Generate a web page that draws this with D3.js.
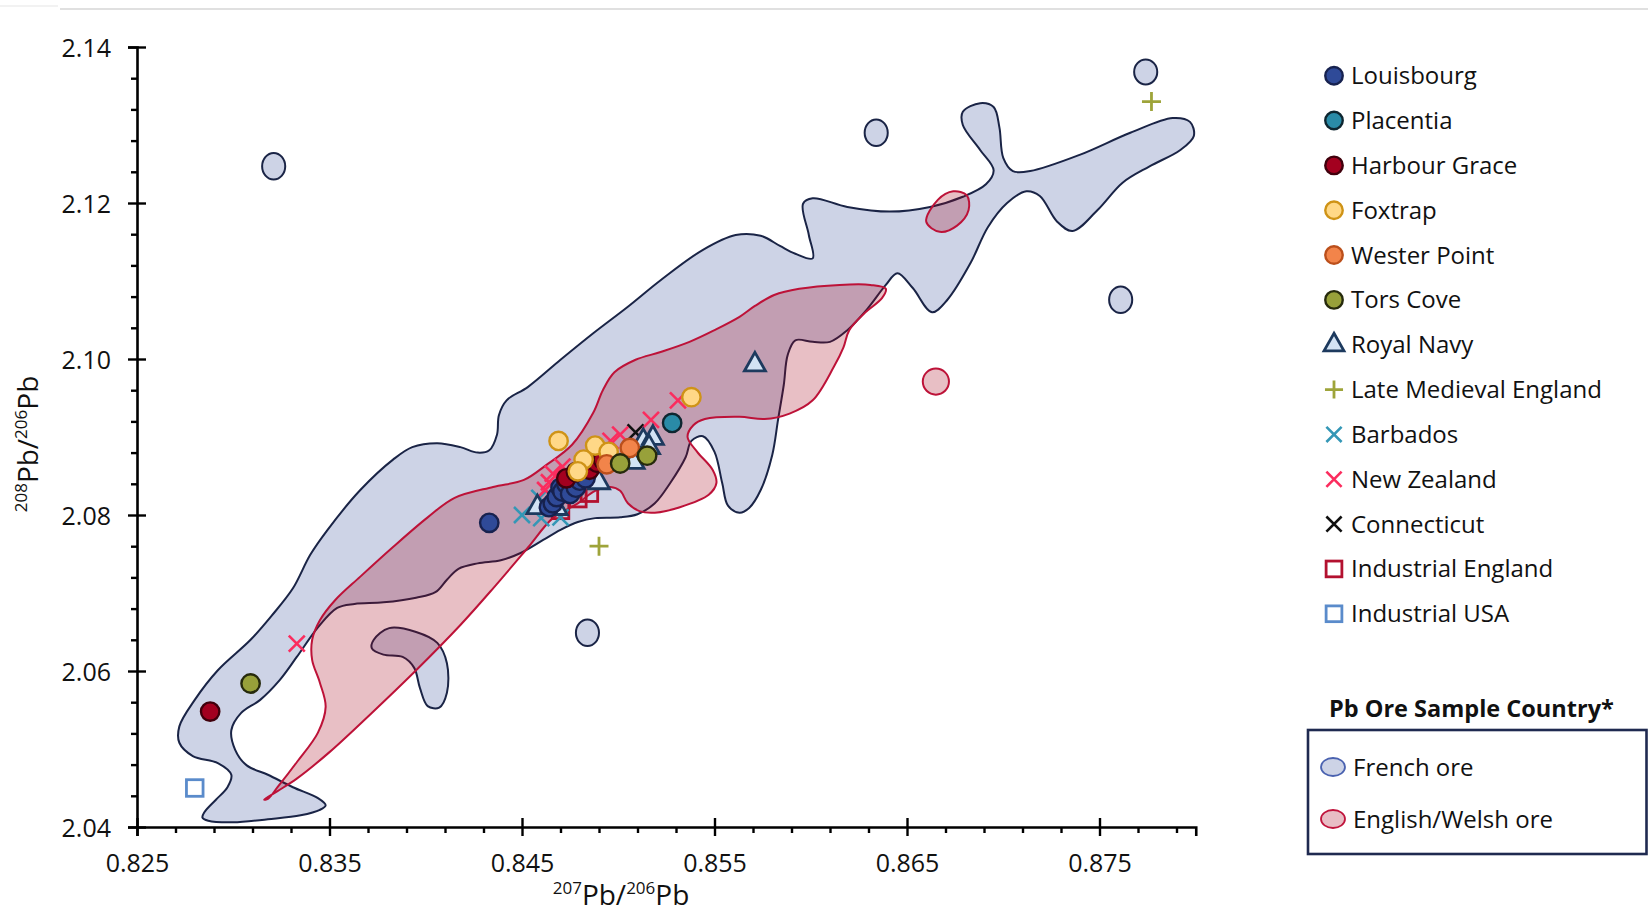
<!DOCTYPE html>
<html>
<head>
<meta charset="utf-8">
<script src="https://cdn.jsdelivr.net/npm/d3@7"></script>
<style>
  body { margin: 0; background: #fff; }
  svg { display: block; }
  text { font-family: 'Open Sans', 'Noto Sans', sans-serif; fill: #111; }
</style>
</head>
<body>
<svg id="chart" width="1648" height="914"></svg>
<script>
// ---- Lead isotope ratios: 207Pb/206Pb (x) vs 208Pb/206Pb (y) ----

const xTickValues = [0.825, 0.835, 0.845, 0.855, 0.865, 0.875];
const yTickValues = [2.04, 2.06, 2.08, 2.10, 2.12, 2.14];

// Archaeological lead samples, [207Pb/206Pb, 208Pb/206Pb]
const louisbourg = [[0.8433,2.0790],[0.8464,2.0810],[0.8466,2.0815],[0.8468,2.0823],[0.8470,2.0835],[0.8471,2.0830],[0.8473,2.0840],[0.8475,2.0827],[0.8478,2.0835],[0.8480,2.0844],[0.8483,2.0847]];
const placentia = [[0.8528,2.0918]];
const harbourGrace = [[0.8288,2.0548],[0.8473,2.0847],[0.8478,2.0855],[0.8485,2.0858],[0.8489,2.0867],[0.8492,2.0871]];
const foxtrap = [[0.8469,2.0895],[0.8488,2.0889],[0.8495,2.0881],[0.8482,2.0871],[0.8479,2.0856],[0.8538,2.0951]];
const westerPoint = [[0.8506,2.0886],[0.8494,2.0865]];
const torsCove = [[0.8309,2.0584],[0.8501,2.0866],[0.8515,2.0876]];
const royalNavy = [[0.8571,2.0993],[0.8458,2.0810],[0.8468,2.0809],[0.8490,2.0842],[0.8508,2.0868],[0.8513,2.0895],[0.8518,2.0899],[0.8516,2.0887]];
const lateMedievalEngland = [[0.8777,2.1330],[0.8490,2.0760]];
const barbados = [[0.8450,2.0800],[0.8459,2.0822],[0.8460,2.0796],[0.8470,2.0797]];
const newZealand = [[0.8333,2.0635],[0.8531,2.0947],[0.8517,2.0922],[0.8501,2.0903],[0.8496,2.0895],[0.8464,2.0842],[0.8466,2.0853],[0.8471,2.0862],[0.8462,2.0832]];
const connecticut = [[0.8509,2.0906]];
const industrialEngland = [[0.8479,2.0821],[0.8485,2.0828],[0.8470,2.0806]];
const industrialUSA = [[0.8280,2.0450]];

// Ore field outlines, [207Pb/206Pb, 208Pb/206Pb]
const frenchOreOutline = [[0.8284,2.0412],[0.8287,2.0408],[0.8300,2.0406],[0.8318,2.0410],[0.8335,2.0415],[0.8345,2.0422],[0.8348,2.0428],[0.8344,2.0437],[0.8331,2.0451],[0.8318,2.0467],[0.8307,2.0479],[0.8301,2.0499],[0.8299,2.0524],[0.8304,2.0546],[0.8314,2.0563],[0.8324,2.0588],[0.8333,2.0618],[0.8344,2.0656],[0.8354,2.0681],[0.8363,2.0686],[0.8378,2.0688],[0.8395,2.0694],[0.8405,2.0701],[0.8411,2.0717],[0.8417,2.0731],[0.8427,2.0738],[0.8439,2.0742],[0.8449,2.0751],[0.8461,2.0768],[0.8470,2.0781],[0.8479,2.0791],[0.8488,2.0796],[0.8501,2.0797],[0.8510,2.0801],[0.8519,2.0815],[0.8527,2.0841],[0.8535,2.0874],[0.8538,2.0895],[0.8544,2.0901],[0.8550,2.0881],[0.8554,2.0841],[0.8557,2.0812],[0.8563,2.0803],[0.8568,2.0809],[0.8574,2.0832],[0.8580,2.0877],[0.8583,2.0922],[0.8586,2.0967],[0.8588,2.1005],[0.8592,2.1024],[0.8601,2.1022],[0.8610,2.1022],[0.8619,2.1037],[0.8629,2.1063],[0.8639,2.1095],[0.8645,2.1110],[0.8653,2.1091],[0.8663,2.1060],[0.8671,2.1076],[0.8683,2.1123],[0.8692,2.1169],[0.8702,2.1200],[0.8712,2.1215],[0.8719,2.1209],[0.8728,2.1176],[0.8736,2.1164],[0.8749,2.1191],[0.8762,2.1226],[0.8776,2.1247],[0.8792,2.1268],[0.8799,2.1286],[0.8797,2.1304],[0.8788,2.1309],[0.8766,2.1290],[0.8740,2.1262],[0.8714,2.1241],[0.8705,2.1241],[0.8700,2.1258],[0.8698,2.1297],[0.8695,2.1323],[0.8688,2.1328],[0.8679,2.1317],[0.8679,2.1300],[0.8688,2.1268],[0.8695,2.1242],[0.8691,2.1224],[0.8679,2.1208],[0.8662,2.1195],[0.8641,2.1189],[0.8619,2.1195],[0.8601,2.1206],[0.8596,2.1199],[0.8599,2.1159],[0.8601,2.1129],[0.8592,2.1135],[0.8584,2.1145],[0.8574,2.1158],[0.8561,2.1159],[0.8544,2.1140],[0.8522,2.1101],[0.8505,2.1067],[0.8487,2.1033],[0.8470,2.0999],[0.8453,2.0964],[0.8442,2.0947],[0.8438,2.0928],[0.8437,2.0903],[0.8433,2.0883],[0.8427,2.0880],[0.8418,2.0887],[0.8406,2.0892],[0.8393,2.0887],[0.8383,2.0871],[0.8366,2.0832],[0.8349,2.0781],[0.8340,2.0749],[0.8331,2.0706],[0.8320,2.0671],[0.8309,2.0640],[0.8292,2.0601],[0.8280,2.0563],[0.8272,2.0529],[0.8272,2.0508],[0.8279,2.0491],[0.8292,2.0482],[0.8299,2.0467],[0.8297,2.0451],[0.8291,2.0435],[0.8285,2.0419]];
const frenchOreLobe = [[0.8373,2.0640],[0.8381,2.0655],[0.8395,2.0650],[0.8406,2.0636],[0.8411,2.0610],[0.8411,2.0572],[0.8407,2.0553],[0.8401,2.0555],[0.8397,2.0578],[0.8394,2.0604],[0.8388,2.0618],[0.8378,2.0621],[0.8372,2.0629]];
// isolated French ore samples: [centre x, centre y, radius x, radius y]
const frenchOreSpots = [[0.8321,2.1247,0.0006,0.0017],[0.8634,2.1290,0.0006,0.0017],[0.8774,2.1368,0.0006,0.0016],[0.8761,2.1076,0.0006,0.0017],[0.8484,2.0649,0.0006,0.0017]];

const englishOreOutline = [[0.8316,2.0435],[0.8323,2.0446],[0.8333,2.0462],[0.8350,2.0496],[0.8371,2.0544],[0.8395,2.0601],[0.8418,2.0659],[0.8435,2.0706],[0.8453,2.0758],[0.8466,2.0796],[0.8479,2.0815],[0.8488,2.0831],[0.8496,2.0836],[0.8501,2.0831],[0.8505,2.0815],[0.8511,2.0805],[0.8519,2.0803],[0.8532,2.0810],[0.8547,2.0826],[0.8551,2.0841],[0.8549,2.0858],[0.8541,2.0881],[0.8536,2.0900],[0.8539,2.0915],[0.8545,2.0923],[0.8563,2.0926],[0.8576,2.0923],[0.8589,2.0930],[0.8601,2.0947],[0.8612,2.0990],[0.8617,2.1015],[0.8620,2.1037],[0.8628,2.1059],[0.8637,2.1078],[0.8639,2.1090],[0.8631,2.1095],[0.8615,2.1095],[0.8594,2.1090],[0.8581,2.1082],[0.8571,2.1068],[0.8563,2.1054],[0.8550,2.1037],[0.8537,2.1022],[0.8522,2.1009],[0.8509,2.0999],[0.8498,2.0983],[0.8492,2.0960],[0.8487,2.0931],[0.8476,2.0890],[0.8462,2.0863],[0.8451,2.0845],[0.8435,2.0836],[0.8415,2.0822],[0.8401,2.0797],[0.8383,2.0759],[0.8366,2.0721],[0.8353,2.0691],[0.8345,2.0665],[0.8341,2.0640],[0.8341,2.0614],[0.8345,2.0585],[0.8348,2.0554],[0.8344,2.0521],[0.8333,2.0483],[0.8323,2.0451],[0.8318,2.0436]];
const englishOreTopSpot = [[0.8660,2.1176],[0.8667,2.1163],[0.8676,2.1171],[0.8682,2.1191],[0.8681,2.1210],[0.8674,2.1215],[0.8666,2.1204]];
const englishOreSpots = [[0.8665,2.0971,0.00068,0.00167]];

const sampleNames = ["Louisbourg","Placentia","Harbour Grace","Foxtrap","Wester Point","Tors Cove","Royal Navy","Late Medieval England","Barbados","New Zealand","Connecticut","Industrial England","Industrial USA"];
const oreNames = ["French ore","English/Welsh ore"];

// ---- marker styles ----
const seriesStyle = {
  "Louisbourg":            {shape:"circle",   fill:"#2f4a98", stroke:"#17224f", data: louisbourg},
  "Placentia":             {shape:"circle",   fill:"#2a8ba7", stroke:"#0e2630", data: placentia},
  "Harbour Grace":         {shape:"circle",   fill:"#a3001f", stroke:"#40000c", data: harbourGrace},
  "Foxtrap":               {shape:"circle",   fill:"#ffd887", stroke:"#cf9316", data: foxtrap},
  "Wester Point":          {shape:"circle",   fill:"#f2844a", stroke:"#bb4f1b", data: westerPoint},
  "Tors Cove":             {shape:"circle",   fill:"#98a13a", stroke:"#262a0c", data: torsCove},
  "Royal Navy":            {shape:"triangle", fill:"#d3e3f4", stroke:"#1d3a5e", data: royalNavy},
  "Late Medieval England": {shape:"plus",     fill:"none",    stroke:"#9ea43a", data: lateMedievalEngland},
  "Barbados":              {shape:"cross",    fill:"none",    stroke:"#3497b6", data: barbados},
  "New Zealand":           {shape:"cross",    fill:"none",    stroke:"#fb2c5e", data: newZealand},
  "Connecticut":           {shape:"cross",    fill:"none",    stroke:"#111111", data: connecticut},
  "Industrial England":    {shape:"square",   fill:"none",    stroke:"#b3112f", data: industrialEngland},
  "Industrial USA":        {shape:"square",   fill:"none",    stroke:"#5a8bcb", data: industrialUSA}
};
const drawOrder = ["Connecticut","Industrial USA","Industrial England","Barbados","New Zealand","Late Medieval England","Royal Navy","Louisbourg","Placentia","Harbour Grace","Foxtrap","Wester Point","Tors Cove"];

const FRENCH_FILL = "#cdd3e6", FRENCH_STROKE = "#1a2446";
const ENGLISH_FILL = "rgb(164,0,24)", ENGLISH_ALPHA = 0.25, ENGLISH_STROKE = "#bd1238";

// ---- layout ----
const svg = d3.select("#chart");
const x = d3.scaleLinear().domain([0.825, 0.88]).range([137, 1195.75]);
const y = d3.scaleLinear().domain([2.04, 2.14]).range([827, 47]);

// frame edge along the top
svg.append("line").attr("x1", 0).attr("x2", 58).attr("y1", 6).attr("y2", 6).attr("stroke", "#eeeeee").attr("stroke-width", 1.5);
svg.append("line").attr("x1", 60).attr("x2", 1648).attr("y1", 9).attr("y2", 9).attr("stroke", "#d6d6d6").attr("stroke-width", 1.5);

const outline = d3.line().x(d => x(d[0])).y(d => y(d[1])).curve(d3.curveCatmullRomClosed.alpha(0.5));

// ore fields
const ore = svg.append("g");
function oreShapes(g, outlines, spots, fill, opacity, stroke) {
  outlines.forEach(o => g.append("path").attr("d", outline(o))
    .attr("fill", fill).attr("fill-opacity", opacity)
    .attr("stroke", stroke).attr("stroke-width", 2));
  spots.forEach(s => g.append("ellipse")
    .attr("cx", x(s[0])).attr("cy", y(s[1]))
    .attr("rx", x(s[0] + s[2]) - x(s[0])).attr("ry", y(s[1]) - y(s[1] + s[3]))
    .attr("fill", fill).attr("fill-opacity", opacity)
    .attr("stroke", stroke).attr("stroke-width", 2));
}
oreShapes(ore, [frenchOreOutline, frenchOreLobe], frenchOreSpots, FRENCH_FILL, 1, FRENCH_STROKE);
oreShapes(ore, [englishOreOutline, englishOreTopSpot], englishOreSpots, ENGLISH_FILL, ENGLISH_ALPHA, ENGLISH_STROKE);

// marker drawing
function marker(g, style, scale) {
  const k = scale || 1;
  if (style.shape === "circle") {
    g.append("circle").attr("r", 9.2 * k).attr("fill", style.fill).attr("stroke", style.stroke).attr("stroke-width", 2.4);
  } else if (style.shape === "triangle") {
    const s = 10.5 * k;
    g.append("path").attr("d", `M0,${-1.15 * s}L${s},${0.62 * s}L${-s},${0.62 * s}Z`)
      .attr("fill", style.fill).attr("stroke", style.stroke).attr("stroke-width", 2.8).attr("stroke-linejoin", "miter");
  } else if (style.shape === "plus") {
    const s = 9.5 * k;
    g.append("path").attr("d", `M${-s},0H${s}M0,${-s}V${s}`).attr("stroke", style.stroke).attr("stroke-width", 2.8);
  } else if (style.shape === "cross") {
    const s = 8 * k;
    g.append("path").attr("d", `M${-s},${-s}L${s},${s}M${-s},${s}L${s},${-s}`).attr("stroke", style.stroke).attr("stroke-width", 2.6);
  } else if (style.shape === "square") {
    const s = 8.3 * k;
    g.append("rect").attr("x", -s).attr("y", -s).attr("width", 2 * s).attr("height", 2 * s)
      .attr("fill", style.fill).attr("stroke", style.stroke).attr("stroke-width", 2.8);
  }
}

// samples
const pts = svg.append("g");
drawOrder.forEach(name => {
  const st = seriesStyle[name];
  st.data.forEach(d => {
    const g = pts.append("g").attr("transform", `translate(${x(d[0])},${y(d[1])})`);
    marker(g, st, 1);
  });
});

// ---- axes ----
const xMinor = d3.range(0, 28).filter(k => k % 5 !== 0).map(k => +(0.825 + k * 0.002).toFixed(3));
const yMinor = d3.range(0, 26).filter(k => k % 5 !== 0).map(k => +(2.04 + k * 0.004).toFixed(3));

const xAxisG = svg.append("g").attr("transform", "translate(0,827)");
xAxisG.call(d3.axisBottom(x).tickValues(xMinor).tickSize(6).tickFormat("")).call(g => g.select(".domain").remove());
xAxisG.append("g").call(d3.axisBottom(x).tickValues(xTickValues).tickSizeOuter(0).tickSize(9).tickFormat(d3.format(".3f")));

const yAxisG = svg.append("g").attr("transform", "translate(137,0)");
yAxisG.call(d3.axisLeft(y).tickValues(yMinor).tickSize(6).tickFormat("")).call(g => g.select(".domain").remove());
yAxisG.append("g").call(d3.axisLeft(y).tickValues(yTickValues).tickSizeOuter(0).tickSize(9).tickFormat(d3.format(".2f")));

svg.selectAll(".domain").attr("stroke", "#000").attr("stroke-width", 2.6);
svg.selectAll(".tick line").attr("stroke", "#000").attr("stroke-width", 2.4);
xAxisG.selectAll("g > g > .tick line").attr("y1", -9).attr("y2", 9);
yAxisG.selectAll("g > g > .tick line").attr("x1", -9).attr("x2", 9);
xAxisG.selectAll(".tick text").attr("y", 45).attr("dy", null)
  .style("font-family", "'Open Sans', sans-serif").style("font-size", "25px").attr("fill", "#111");
yAxisG.selectAll(".tick text").attr("x", -26).attr("dy", "0.36em")
  .style("font-family", "'Open Sans', sans-serif").style("font-size", "25px").attr("fill", "#111");

// axis titles
function isotopeTitle(t, top, bottom) {
  t.append("tspan").attr("font-size", 17).attr("dy", -11).text(top);
  t.append("tspan").attr("font-size", 28).attr("dy", 11).text("Pb/");
  t.append("tspan").attr("font-size", 17).attr("dy", -11).text(bottom);
  t.append("tspan").attr("font-size", 28).attr("dy", 11).text("Pb");
}
const xt = svg.append("text").attr("x", 621).attr("y", 905).attr("text-anchor", "middle");
isotopeTitle(xt, "207", "206");
const yt = svg.append("text").attr("transform", "translate(38,444) rotate(-90)").attr("text-anchor", "middle");
isotopeTitle(yt, "208", "206");

// ---- legends ----
const leg = svg.append("g");
sampleNames.forEach((name, i) => {
  const cy = 75.7 + i * 44.84;
  const g = leg.append("g").attr("transform", `translate(1334,${cy})`);
  marker(g, seriesStyle[name], 0.95);
  leg.append("text").attr("x", 1351).attr("y", cy + 8.5).style("font-size", "24px").text(name);
});

const oreLeg = svg.append("g");
oreLeg.append("text").attr("x", 1329).attr("y", 717).style("font-size", "23.5px").style("font-weight", 700).text("Pb Ore Sample Country*");
oreLeg.append("rect").attr("x", 1308).attr("y", 730).attr("width", 338.5).attr("height", 124)
  .attr("fill", "#fff").attr("stroke", "#1f2a50").attr("stroke-width", 2.6);
const oreKey = [
  {fill: FRENCH_FILL, stroke: "#4a62b0"},
  {fill: "#e8bdc5", stroke: "#c0143c"}
];
oreNames.forEach((name, i) => {
  const cy = 767 + i * 52;
  oreLeg.append("ellipse").attr("cx", 1333).attr("cy", cy).attr("rx", 12).attr("ry", 9)
    .attr("fill", oreKey[i].fill).attr("stroke", oreKey[i].stroke).attr("stroke-width", 1.8);
  oreLeg.append("text").attr("x", 1353).attr("y", cy + 8.5).style("font-size", "24px").text(name);
});
</script>
</body>
</html>
